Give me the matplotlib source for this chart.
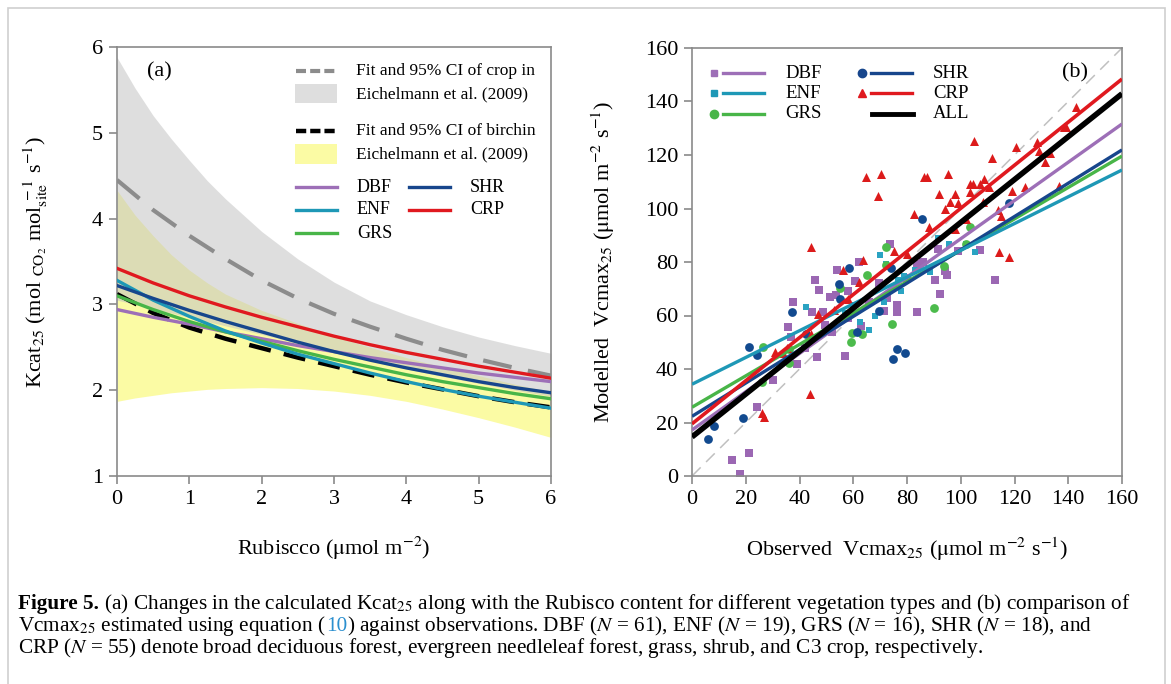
import matplotlib
matplotlib.use('Agg')
import matplotlib.pyplot as plt
from matplotlib.patches import Rectangle

plt.rcParams['font.family'] = ['Liberation Serif', 'DejaVu Serif']
plt.rcParams['mathtext.fontset'] = 'stix'

# ---- panel (a): Kcat25 vs Rubisco ----
rub = [0, 0.5, 1, 1.5, 2, 2.5, 3, 3.5, 4, 4.5, 5, 5.5, 6]
crop_fit = [4.45, 4.10, 3.80, 3.53, 3.28, 3.07, 2.89, 2.74, 2.60, 2.47, 2.36, 2.26, 2.17]
band_x = [0, 0.25, 0.5, 0.75, 1, 1.25, 1.5, 2, 2.5, 3, 3.5, 4, 4.5, 5, 5.5, 6]
crop_hi = [5.88, 5.52, 5.20, 4.93, 4.68, 4.44, 4.23, 3.85, 3.53, 3.26, 3.04, 2.88, 2.74, 2.62,
           2.52, 2.43]
crop_lo = [3.05, 3.00, 2.95, 2.90, 2.85, 2.80, 2.75, 2.65, 2.55, 2.45, 2.35, 2.25, 2.16, 2.08,
           2.00, 1.93]
birch_fit = [3.12, 2.90, 2.73, 2.60, 2.49, 2.38, 2.28, 2.18, 2.09, 2.01, 1.93, 1.86, 1.80]
birch_hi = [4.33, 4.04, 3.80, 3.58, 3.40, 3.25, 3.12, 2.93, 2.78, 2.63, 2.50, 2.38, 2.27, 2.17,
            2.07, 1.98]
birch_lo = [1.87, 1.91, 1.94, 1.97, 1.99, 2.01, 2.02, 2.03, 2.02, 1.99, 1.94, 1.87, 1.78, 1.68,
            1.57, 1.45]
kcat_dbf = [2.94, 2.85, 2.77, 2.68, 2.60, 2.52, 2.45, 2.38, 2.32, 2.26, 2.20, 2.15, 2.10]
kcat_enf = [3.28, 3.05, 2.86, 2.69, 2.55, 2.42, 2.31, 2.20, 2.10, 2.01, 1.93, 1.86, 1.79]
kcat_grs = [3.10, 2.94, 2.80, 2.68, 2.57, 2.46, 2.36, 2.27, 2.18, 2.10, 2.03, 1.96, 1.90]
kcat_shr = [3.22, 3.07, 2.93, 2.80, 2.68, 2.56, 2.45, 2.35, 2.26, 2.18, 2.10, 2.03, 1.97]
kcat_crp = [3.42, 3.25, 3.10, 2.97, 2.85, 2.74, 2.63, 2.53, 2.44, 2.36, 2.28, 2.21, 2.14]

# ---- panel (b): observed vs modelled Vcmax25 ----
dbf_x = [14.8, 17.7, 21.3, 24.2, 37.0, 37.5, 35.8, 39.0, 45.8, 46.4, 47.4, 48.9, 49.4, 51.3, 53.6,
         54.1, 56.9, 57.9, 60.7, 62.3, 63.0, 69.7, 71.4, 73.7, 72.7, 76.2, 76.2, 83.6, 83.8, 90.5,
         92.1, 91.7, 94.3, 107.2, 112.8, 44.5, 95.0, 30.0, 42.0, 52.0, 58.0, 66.0, 80.0, 86.0, 99.0]
dbf_y = [6.0, 0.9, 8.6, 25.9, 52.1, 64.9, 55.8, 41.9, 73.3, 44.4, 69.5, 61.4, 56.5, 66.8, 67.7,
         77.0, 45.0, 69.2, 73.0, 80.1, 56.1, 72.3, 61.8, 86.7, 66.4, 63.9, 61.4, 61.4, 79.3, 73.1,
         68.1, 84.9, 76.8, 84.3, 73.3, 61.4, 75.3, 36.0, 48.0, 54.0, 59.0, 65.0, 74.0, 80.0, 84.0]
enf_x = [42.6, 55.0, 62.6, 66.0, 68.0, 70.0, 72.3, 71.4, 77.7, 79.0, 76.6, 88.5, 91.7, 95.8,
         101.8, 105.3, 57.0, 83.0, 60.0]
enf_y = [63.0, 70.7, 57.4, 54.4, 60.0, 82.8, 79.2, 65.0, 69.2, 74.7, 73.4, 76.2, 88.8, 86.6,
         86.9, 83.7, 61.0, 77.0, 64.0]
grs_x = [26.5, 26.0, 36.1, 36.1, 55.0, 59.2, 59.7, 63.3, 65.0, 72.0, 72.0, 74.6, 90.2, 93.7,
         103.4, 101.9]
grs_y = [48.4, 35.0, 42.2, 47.3, 70.2, 50.0, 53.5, 52.9, 75.0, 85.6, 78.9, 56.7, 62.9, 78.4,
         92.9, 86.9]
shr_x = [5.9, 8.1, 19.1, 21.3, 24.0, 37.2, 42.6, 54.8, 55.0, 58.4, 61.3, 69.7, 73.9, 74.7,
         76.3, 79.3, 85.4, 117.8]
shr_y = [13.7, 18.6, 21.8, 48.1, 45.4, 61.2, 52.9, 71.7, 66.1, 77.9, 54.0, 61.5, 77.6, 43.9,
         47.5, 45.8, 96.1, 101.9]
crp_x = [26.1, 26.8, 30.9, 35.4, 44.0, 44.1, 44.4, 47.0, 56.2, 62.0, 63.8, 64.9, 69.3, 70.5,
         82.7, 86.3, 87.5, 91.9, 94.1, 95.3, 96.1, 97.9, 99.0, 97.9, 102.0, 103.3, 103.4, 104.4,
         105.1, 107.0, 108.2, 108.8, 110.6, 111.8, 113.8, 114.4, 114.8, 118.0, 119.2, 120.6,
         124.0, 128.2, 129.1, 131.5, 133.2, 136.7, 138.3, 139.0, 142.7, 53.0, 75.0, 88.0,
         58.0, 80.0, 34.0]
crp_y = [23.4, 22.2, 46.4, 47.7, 30.8, 85.6, 53.2, 60.4, 76.9, 72.4, 80.8, 111.9, 104.6, 112.8,
         98.0, 111.9, 111.9, 105.3, 100.0, 112.8, 102.6, 105.5, 101.9, 92.4, 96.0, 106.1, 109.1,
         109.3, 125.4, 109.1, 102.6, 111.2, 108.0, 118.7, 99.4, 83.9, 97.1, 81.7, 106.7, 123.0,
         108.0, 124.7, 121.5, 117.3, 120.9, 108.4, 130.5, 130.5, 137.8, 62.0, 84.0, 93.0,
         66.0, 83.0, 46.0]

# regression lines: (value at 0, value at 160)
fit_ends = {
    'DBF': (17.2, 131.6),
    'ENF': (34.3, 114.4),
    'GRS': (25.7, 119.6),
    'SHR': (22.3, 121.9),
    'CRP': (19.5, 148.4),
    'ALL': (14.6, 142.9),
}
fit_x = [0, 160]

c_dbf = '#9d6fb7'
c_enf = '#1e98b6'
c_grs = '#48b548'
c_shr = '#17468c'
c_crp = '#e0191f'
c_axis = '#8a8a8a'

fig = plt.figure(figsize=(11.71, 6.84), dpi=100)
fig.patches.append(Rectangle((8 / 1171, -0.01), 1157 / 1171, 1 - 8 / 684 + 0.01,
                             transform=fig.transFigure, fill=False,
                             edgecolor='#cfcfcf', linewidth=1.2))

ax1 = fig.add_axes([117 / 1171, 1 - 476 / 684, 434 / 1171, 429 / 684])
ax2 = fig.add_axes([692 / 1171, 1 - 476 / 684, 430 / 1171, 428 / 684])

for ax in (ax1, ax2):
    for s in ax.spines.values():
        s.set_color(c_axis)
        s.set_linewidth(1.2)
    ax.tick_params(direction='out', length=6, width=1.2, color=c_axis,
                   labelsize=16, top=False, right=False, pad=4)

# panel (a)
ax1.fill_between(band_x, birch_lo, birch_hi, color='#fbfba4', lw=0, zorder=1)
ax1.fill_between(band_x, crop_lo, crop_hi, color='#c4c4c4', alpha=0.55, lw=0, zorder=2)
ax1.plot(rub, crop_fit, color='#8c8c8c', lw=3, dashes=(7, 4), zorder=3)
ax1.plot(rub, birch_fit, color='black', lw=3.2, dashes=(5, 3), zorder=3)
ax1.plot(rub, kcat_dbf, color=c_dbf, lw=2.4, zorder=4)
ax1.plot(rub, kcat_grs, color=c_grs, lw=2.4, zorder=4)
ax1.plot(rub, kcat_enf, color=c_enf, lw=2.4, zorder=4)
ax1.plot(rub, kcat_shr, color=c_shr, lw=2.4, zorder=4)
ax1.plot(rub, kcat_crp, color=c_crp, lw=2.4, zorder=4)
ax1.set_xlim(0, 6)
ax1.set_ylim(1, 6)
ax1.set_xticks(range(0, 7))
ax1.set_yticks(range(1, 7))
ax1.set_xlabel(r'Rubiscco ($\mathrm{\mu}$mol m$^{-2}$)', fontsize=16, labelpad=19)
ax1.set_ylabel(r'Kcat$_{25}$ (mol $_{\mathrm{CO_2}}$ mol$_{\mathrm{site}}^{\ -1}$ s$^{-1}$)',
               fontsize=16, labelpad=30)
ax1.text(0.07, 0.965, '(a)', transform=ax1.transAxes, fontsize=16, va='top')

# legends are drawn by hand to keep their two-column layout
def ax_pt(px, py, box):
    x0, x1, y0, y1 = box
    return (px - x0) / (x1 - x0), (y1 - py) / (y1 - y0)

def leg_line(ax, box, x0, x1, y, **kw):
    a = ax_pt(x0, y, box)
    b = ax_pt(x1, y, box)
    ax.plot([a[0], b[0]], [a[1], b[1]], transform=ax.transAxes, clip_on=False, **kw)

def leg_text(ax, box, x, y, s, size):
    p = ax_pt(x, y, box)
    ax.text(p[0], p[1], s, transform=ax.transAxes, fontsize=size, va='center', ha='left')

def leg_patch(ax, box, x0, x1, y0, y1, col):
    p0 = ax_pt(x0, y1, box)
    p1 = ax_pt(x1, y0, box)
    ax.add_patch(Rectangle(p0, p1[0] - p0[0], p1[1] - p0[1], transform=ax.transAxes,
                           color=col, lw=0))

box1 = (117, 551, 47, 476)
leg_line(ax1, box1, 296, 336, 71, color='#8c8c8c', lw=3, dashes=(2.4, 1.0))
leg_patch(ax1, box1, 295, 337, 84, 103, '#dedede')
leg_line(ax1, box1, 296, 336, 131, color='black', lw=3.2, dashes=(2.3, 0.9))
leg_patch(ax1, box1, 295, 337, 144, 164, '#fbfba4')
leg_text(ax1, box1, 356, 71, 'Fit and 95% CI of crop in', 12.5)
leg_text(ax1, box1, 356, 94, 'Eichelmann et al. (2009)', 12.5)
leg_text(ax1, box1, 356, 131, 'Fit and 95% CI of birchin', 12.5)
leg_text(ax1, box1, 356, 154, 'Eichelmann et al. (2009)', 12.5)
for lab, col, x0, y in [('DBF', c_dbf, 296, 187), ('ENF', c_enf, 296, 210),
                        ('GRS', c_grs, 296, 233), ('SHR', c_shr, 409, 187),
                        ('CRP', c_crp, 409, 210)]:
    leg_line(ax1, box1, x0, x0 + 41, y, color=col, lw=2.4)
    leg_text(ax1, box1, x0 + 61, y, lab, 13)

# panel (b)
ax2.plot([0, 160], [0, 160], color='#c0c0c0', lw=1.1, dashes=(8, 5), zorder=1)
ax2.scatter(dbf_x, dbf_y, marker='s', s=26, color='#9b67b3', lw=0, zorder=2)
ax2.scatter(enf_x, enf_y, marker='s', s=20, color='#2aa3c2', lw=0, zorder=2)
ax2.scatter(grs_x, grs_y, marker='o', s=40, color='#4cbb4c', lw=0, zorder=2)
ax2.scatter(shr_x, shr_y, marker='o', s=40, color='#124a8f', lw=0, zorder=2)
ax2.scatter(crp_x, crp_y, marker='^', s=42, color='#dc1b1b', lw=0, zorder=2)
line_style = {'DBF': (c_dbf, 2.4), 'ENF': (c_enf, 2.4), 'GRS': (c_grs, 2.4),
              'SHR': (c_shr, 2.4), 'CRP': (c_crp, 2.6), 'ALL': ('black', 4)}
for name in ['DBF', 'GRS', 'SHR', 'ENF', 'CRP', 'ALL']:
    col, lw = line_style[name]
    ax2.plot(fit_x, fit_ends[name], color=col, lw=lw, zorder=3, solid_capstyle='butt')
ax2.set_xlim(0, 160)
ax2.set_ylim(0, 160)
ax2.set_xticks(range(0, 161, 20))
ax2.set_yticks(range(0, 161, 20))
ax2.set_xlabel(r'Observed  Vcmax$_{25}$ ($\mathrm{\mu}$mol m$^{-2}$ s$^{-1}$)',
               fontsize=16, labelpad=19)
ax2.set_ylabel(r'Modelled  Vcmax$_{25}$ ($\mathrm{\mu}$mol m$^{-2}$ s$^{-1}$)',
               fontsize=16, labelpad=20)
ax2.text(0.86, 0.965, '(b)', transform=ax2.transAxes, fontsize=16, va='top')

box2 = (692, 1122, 48, 476)
for lab, col, mk, ms, x0, y in [('DBF', c_dbf, 's', 5, 714, 73), ('ENF', c_enf, 's', 5, 714, 93),
                                ('GRS', c_grs, 'o', 6, 714, 114), ('SHR', c_shr, 'o', 6, 862, 73),
                                ('CRP', c_crp, '^', 6, 862, 93)]:
    p = ax_pt(x0, y, box2)
    ax2.plot([p[0]], [p[1]], marker=mk, ms=ms, color=col, lw=0, transform=ax2.transAxes,
             clip_on=False)
    leg_line(ax2, box2, x0 + 9, x0 + 50, y, color=col, lw=2.4)
    leg_text(ax2, box2, x0 + 71, y, lab, 13.5)
leg_line(ax2, box2, 872, 913, 114, color='black', lw=3.5)
leg_text(ax2, box2, 933, 114, 'ALL', 13.5)

# caption
fig.canvas.draw()
renderer = fig.canvas.get_renderer()
inv = fig.transFigure.inverted()

def caption_line(py, parts):
    x = 18 / 1171
    y = 1 - py / 684
    for s, kw in parts:
        t = fig.text(x, y, s, fontsize=15.3, va='baseline', **kw)
        bb = t.get_window_extent(renderer)
        x = inv.transform((bb.x1, bb.y0))[0]

caption_line(609, [('Figure 5.', {'fontweight': 'bold'}),
                   (r' (a) Changes in the calculated Kcat$_{25}$ along with the Rubisco content '
                    'for different vegetation types and (b) comparison of', {})])
caption_line(631, [(r'Vcmax$_{25}$ estimated using equation (', {}),
                   ('10', {'color': '#2a8fcf'}),
                   (r') against observations. DBF ($N$ = 61), ENF ($N$ = 19), GRS ($N$ = 16), '
                    r'SHR ($N$ = 18), and', {})])
caption_line(653, [(r'CRP ($N$ = 55) denote broad deciduous forest, evergreen needleleaf forest, '
                    'grass, shrub, and C3 crop, respectively.', {})])

fig.savefig('out.png', dpi=100)
